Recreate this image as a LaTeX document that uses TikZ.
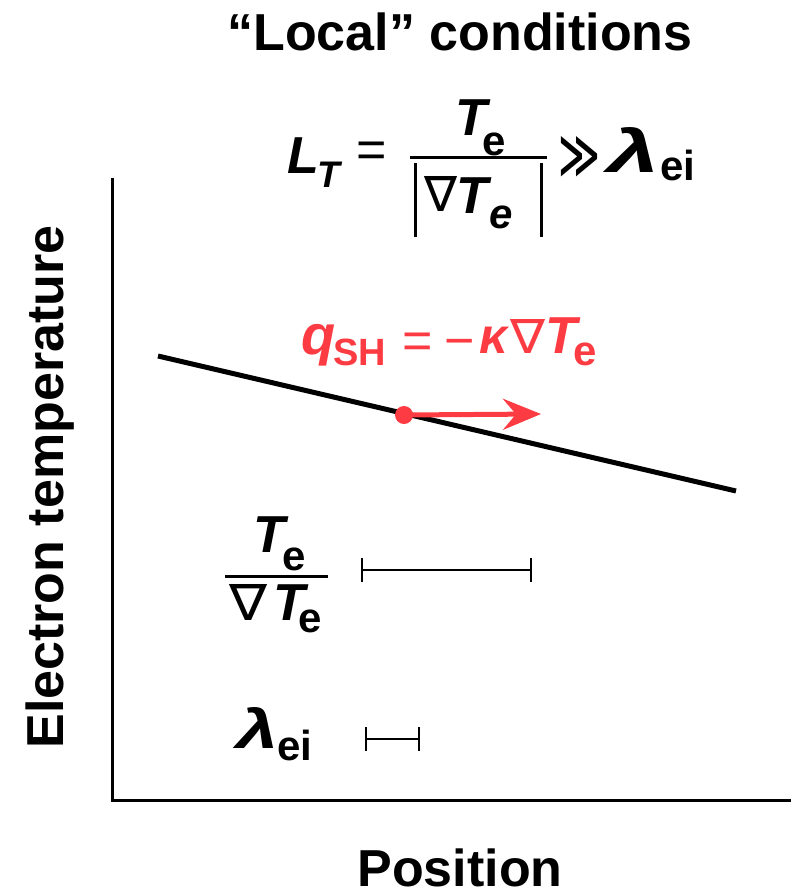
\documentclass[tikz,border=0pt]{standalone}
\usepackage{fontspec}
\setmainfont{Liberation Sans}
\newfontfamily\symf{DejaVu Sans}
\usetikzlibrary{arrows.meta}
\definecolor{flux}{RGB}{252,60,66}
\newcommand\fs[1]{\fontsize{#1}{#1}\selectfont}
\newcommand\bfit[1]{{\bfseries\itshape #1}}
\newcommand\nab[2]{\resizebox{#1pt}{#2pt}{\symf ∇}}
\newcommand\lamb[2]{\resizebox{#1pt}{#2pt}{\fs{52}\bfit{λ}}}
\tikzset{
  txt/.style={inner sep=0pt, outer sep=0pt, anchor=base west},
  txtc/.style={inner sep=0pt, outer sep=0pt, anchor=base},
  axis/.style={line width=3pt, line cap=rect},
  rulebar/.style={line width=3pt},
  scalebar/.style={line width=2.5pt},
  profile/.style={line width=5pt},
  fluxarrow/.style={flux, line width=5pt, -{Stealth[length=38pt, width=31pt, inset=13pt]}},
  fluxdot/.style={circle, fill=flux, inner sep=0pt, minimum size=18pt},
}
\begin{document}
\begin{tikzpicture}[x=1pt,y=-1pt]
\useasboundingbox (0,0) rectangle (791,892);

% titles and axis labels
\node[txtc] (title) at (460,50) {\fs{52}\bfseries “Local” conditions};
\node[txtc] (xlabel) at (460,886) {\fs{52}\bfseries Position};
\node[txtc, rotate=90] (ylabel) at (63,487) {\fs{52}\bfseries Electron temperature};

% axes
\coordinate (ytop) at (112,179);
\coordinate (orig) at (112,800);
\coordinate (xend) at (790,800);
\draw[axis] (ytop) -- (orig) -- (xend);

% L_T equation
\node[txt] (LT) at (287,173) {\fs{52}\bfit{L}};
\node[txt] (LTs) at (317,187) {\fs{37}\bfit{T}};
\node[txtc] (eqA) at (372,167) {\fs{52}=};
\node[txt] (nT) at (455,135) {\fs{52}\bfit{T}};
\node[txt] (ne) at (482,155) {\fs{42}\bfseries e};
\coordinate (fbL) at (410,157.5);
\coordinate (fbR) at (547,157.5);
\draw[rulebar] (fbL) -- (fbR);
\coordinate (abL1) at (415.5,163);
\coordinate (abL2) at (415.5,237);
\coordinate (abR1) at (541.5,163);
\coordinate (abR2) at (541.5,237);
\draw[rulebar] (abL1) -- (abL2);
\draw[rulebar] (abR1) -- (abR2);
\node[txt] (dnab) at (424,211) {\nab{33}{35}};
\node[txt] (dT) at (456,213) {\fs{52}\bfit{T}};
\node[txt] (de) at (489,228) {\fs{42}\bfit{e}};
\node[txt] (gg) at (558,178) {\resizebox{42pt}{42pt}{\symf ≫}};
\node[txt] (lam) at (607,172) {\lamb{52}{45}};
\node[txt] (lams) at (660,180) {\fs{42}\bfseries ei};

% profile line and flux
\coordinate (p1) at (158,356);
\coordinate (p2) at (736,491);
\draw[profile] (p1) -- (p2);
\node[fluxdot] (pt) at (404,415) {};
\coordinate (tip) at (541,414);
\draw[fluxarrow] (pt.center) -- (tip);

% q_SH equation
\node[txt, text=flux] (q) at (301,354) {\fs{56}\bfit{q}};
\node[txt, text=flux] (qs) at (333,365) {\fs{38}\bfseries SH};
\node[txtc, text=flux] (eqB) at (418,358) {\fs{52}=};
\node[txtc, text=flux] (minus) at (460,358) {\fs{52}−};
\node[txt, text=flux] (kap) at (479,353) {\fs{50}\bfit{κ}};
\node[txt, text=flux] (qnab) at (510,353) {\nab{35}{34}};
\node[txt, text=flux] (qT) at (545,353) {\fs{52}\bfit{T}};
\node[txt, text=flux] (qe) at (573,365) {\fs{42}\bfseries e};

% left fraction Te / grad Te
\node[txt] (fT) at (253,552) {\fs{52}\bfit{T}};
\node[txt] (fe) at (282,570) {\fs{42}\bfseries e};
\coordinate (f2L) at (225,576);
\coordinate (f2R) at (328,576);
\draw[rulebar] (f2L) -- (f2R);
\node[txt] (fnab) at (229,620) {\nab{38}{36}};
\node[txt] (fdT) at (273,620) {\fs{52}\bfit{T}};
\node[txt] (fde) at (298,632) {\fs{42}\bfseries e};

% scale bar 1
\coordinate (s1a) at (362,570);
\coordinate (s1b) at (531,570);
\draw[scalebar] (s1a) -- (s1b);
\draw[scalebar] ([yshift=12pt]s1a) -- ([yshift=-12pt]s1a);
\draw[scalebar] ([yshift=12pt]s1b) -- ([yshift=-12pt]s1b);

% lambda_ei label and scale bar 2
\node[txt] (lam2) at (236,748) {\lamb{42}{41}};
\node[txt] (lam2s) at (277,760) {\fs{42}\bfseries ei};
\coordinate (s2a) at (366,739);
\coordinate (s2b) at (419,739);
\draw[scalebar] (s2a) -- (s2b);
\draw[scalebar] ([yshift=12pt]s2a) -- ([yshift=-12pt]s2a);
\draw[scalebar] ([yshift=12pt]s2b) -- ([yshift=-12pt]s2b);
\end{tikzpicture}
\end{document}
